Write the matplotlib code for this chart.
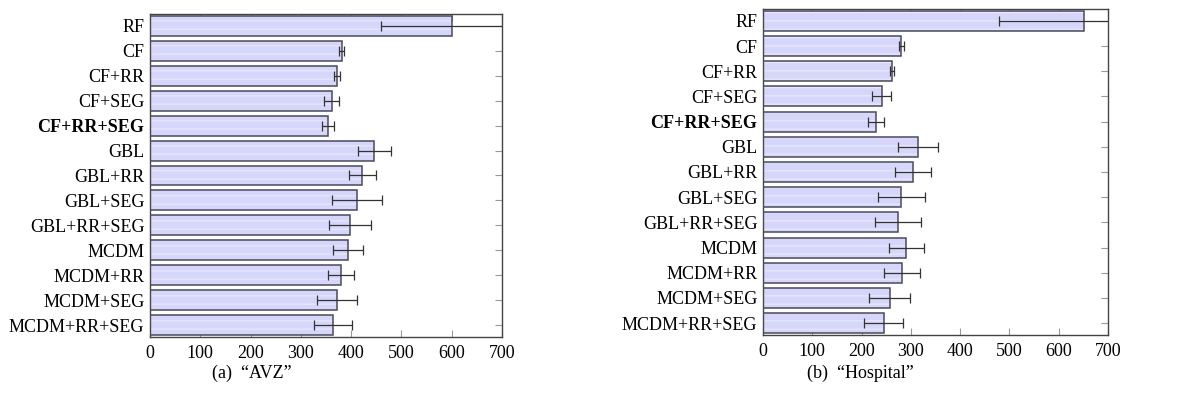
import matplotlib.pyplot as plt
import numpy as np

plt.rcParams['font.family'] = ['Liberation Serif', 'DejaVu Serif']

methods = ["RF", "CF", "CF+RR", "CF+SEG", "CF+RR+SEG", "GBL", "GBL+RR",
           "GBL+SEG", "GBL+RR+SEG", "MCDM", "MCDM+RR", "MCDM+SEG",
           "MCDM+RR+SEG"]

avz_mean = [600, 381, 371, 361, 354, 446, 422, 411, 398, 394, 380, 372, 364]
avz_err = [141, 5, 6, 14, 12, 33, 27, 50, 42, 30, 26, 40, 38]

hosp_mean = [652, 281, 261, 241, 229, 315, 304, 281, 274, 291, 282, 257, 245]
hosp_err = [173, 5, 4, 19, 16, 41, 37, 48, 46, 36, 36, 42, 40]

captions = ["(a)  \u201cAVZ\u201d", "(b)  \u201cHospital\u201d"]

fig = plt.figure(figsize=(11.95, 4.03), dpi=100)
ax1 = fig.add_axes([150/1195, 1 - 337/403, 352/1195, 323/403])
ax2 = fig.add_axes([763/1195, 1 - 335/403, 345/1195, 326/403])

def draw(ax, mean, err):
    y = np.arange(len(methods))
    ax.barh(y, mean, height=0.8, color="#d6d6fa", edgecolor="#e6e6ff",
            hatch="--", linewidth=0, zorder=2)
    ax.barh(y, mean, height=0.8, fill=False, edgecolor="#4a4a5a",
            linewidth=1.1, zorder=3)
    ax.errorbar(mean, y, xerr=err, fmt="none", ecolor="#333333",
                elinewidth=0.9, capsize=3.5, capthick=0.9, zorder=4)
    ax.set_xlim(0, 700)
    ax.set_ylim(12.47, -0.47)
    ax.set_yticks(y)
    ax.set_yticklabels(methods, fontsize=13)
    ax.get_yticklabels()[4].set_fontweight("bold")
    ax.set_xticks(np.arange(0, 701, 100))
    ax.tick_params(axis="x", labelsize=13, direction="in", top=True,
                   length=5, color="#999999", pad=6)
    ax.tick_params(axis="y", direction="in", right=True, length=5,
                   color="#999999", pad=4)
    for s in ax.spines.values():
        s.set_color("#444444")
        s.set_linewidth(1.0)

draw(ax1, avz_mean, avz_err)
draw(ax2, hosp_mean, hosp_err)

fig.text(252/1195, 1 - 373/403, captions[0], ha="center", va="center",
         fontsize=13)
fig.text(860/1195, 1 - 373/403, captions[1], ha="center", va="center",
         fontsize=13)

fig.savefig("out.png", dpi=100)
